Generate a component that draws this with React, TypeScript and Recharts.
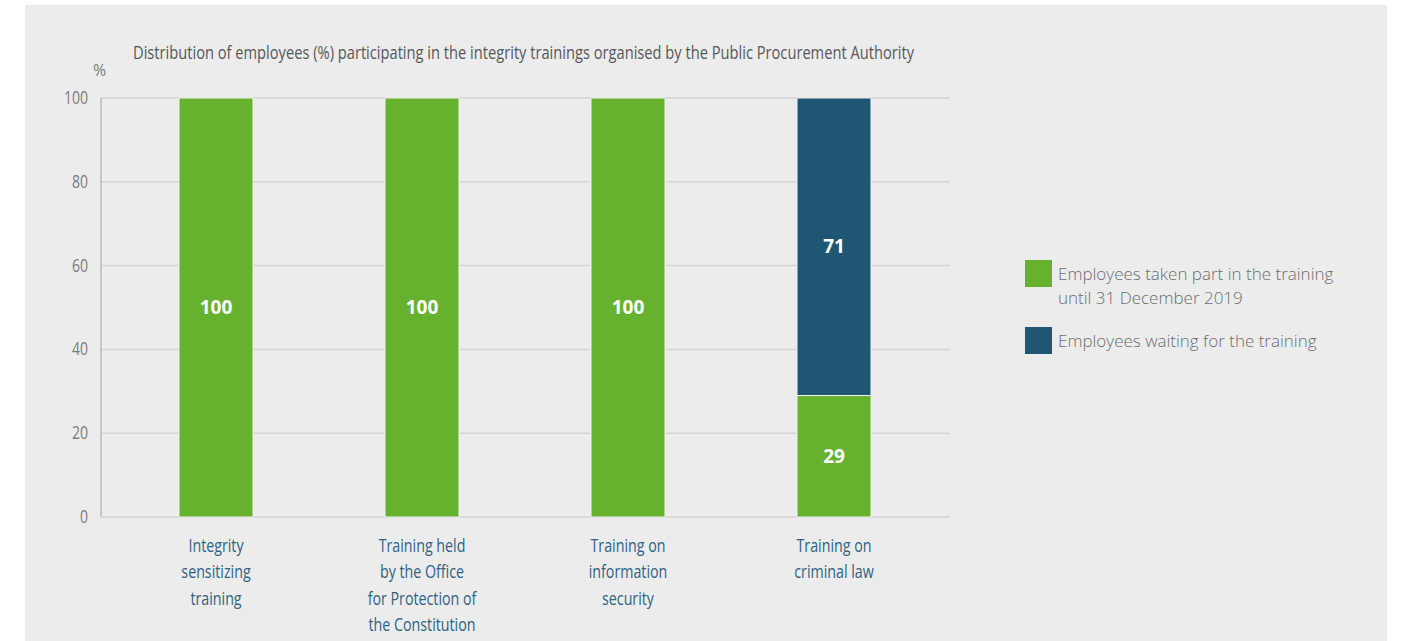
import { Bar, BarChart, CartesianGrid, LabelList, XAxis, YAxis } from "recharts";

const categories = [
  "Integrity\nsensitizing\ntraining",
  "Training held\nby the Office\nfor Protection of\nthe Constitution",
  "Training on\ninformation\nsecurity",
  "Training on\ncriminal law",
];
const takenPart = [100, 100, 100, 29];
const waiting = [0, 0, 0, 71];
const yTicks = [0, 20, 40, 60, 80, 100];

const seriesNames = {
  taken: "Employees taken part in the training\nuntil 31 December 2019",
  waiting: "Employees waiting for the training",
};
const title =
  "Distribution of employees (%) participating in the integrity trainings organised by the Public Procurement Authority";

const GREEN = "#66b22f";
const BLUE = "#1f5674";
const FONT = '"Open Sans", "Noto Sans", sans-serif';

const data = categories.map((name, i) => ({
  name,
  taken: takenPart[i],
  waiting: waiting[i] || null,
}));

// axis text is a condensed face in the original, so squeeze it horizontally
function CategoryTick({ x, y, payload }: any) {
  const lines = String(payload.value).split("\n");
  return (
    <g transform={`translate(${x},${y}) scale(0.75,1)`}>
      <text x={0} y={0} textAnchor="middle" fill="#2f6283" fontSize={19} fontFamily={FONT}>
        {lines.map((line, i) => (
          <tspan key={i} x={0} dy={i === 0 ? 29 : 26.3}>
            {line}
          </tspan>
        ))}
      </text>
    </g>
  );
}

function ValueTick({ x, y, payload }: any) {
  return (
    <g transform={`translate(${x},${y}) scale(0.78,1)`}>
      <text x={0} y={0} dy={6} textAnchor="end" fill="#7b7b7b" fontSize={18} fontFamily={FONT}>
        {payload.value}
      </text>
    </g>
  );
}

function LegendBlock() {
  const items = [
    { color: GREEN, text: seriesNames.taken },
    { color: BLUE, text: seriesNames.waiting },
  ];
  return (
    <div style={{ display: "flex", flexDirection: "column", gap: 17 }}>
      {items.map((it) => (
        <div key={it.color} style={{ display: "flex", alignItems: "flex-start" }}>
          <div style={{ width: 27, height: 27, background: it.color, flexShrink: 0 }} />
          <div
            style={{
              marginLeft: 6,
              marginTop: 2,
              whiteSpace: "pre",
              fontFamily: FONT,
              fontWeight: 300,
              fontSize: 17,
              lineHeight: "24px",
              color: "#6c6c6c",
            }}
          >
            {it.text}
          </div>
        </div>
      ))}
    </div>
  );
}

export default function App() {
  return (
    <div style={{ position: "absolute", left: 0, top: 0, width: 1404, height: 641, background: "#ffffff", overflow: "hidden" }}>
      <div style={{ position: "absolute", left: 25, top: 5, width: 1362, height: 636, background: "#ececec" }} />
      <svg width={1404} height={80} style={{ position: "absolute", left: 0, top: 0 }}>
        <text
          x={133}
          y={59}
          fontSize={19}
          fontFamily={FONT}
          fill="#585858"
          textLength={781}
          lengthAdjust="spacingAndGlyphs"
        >
          {title}
        </text>
        <text x={93} y={76} fontSize={16} fontFamily={FONT} fill="#7b7b7b">
          %
        </text>
      </svg>
      <div style={{ position: "absolute", left: 0, top: 0 }}>
        <BarChart
          width={1404}
          height={641}
          data={data}
          margin={{ top: 98, right: 454, bottom: 0, left: 41 }}
          barSize={74}
        >
          <CartesianGrid vertical={false} stroke="#d4d4d4" strokeWidth={1.5} />
          <XAxis
            dataKey="name"
            interval={0}
            tick={<CategoryTick />}
            tickLine={false}
            axisLine={false}
            padding={{ left: 12, right: 13 }}
            height={124}
            tickMargin={0}
          />
          <YAxis
            width={60}
            domain={[0, 100]}
            ticks={yTicks}
            tick={<ValueTick />}
            tickLine={false}
            axisLine={{ stroke: "#c6c6c6", strokeWidth: 2 }}
            tickMargin={7}
          />
          <Bar
            dataKey="taken"
            name={seriesNames.taken}
            stackId="a"
            fill={GREEN}
            stroke="#f2f2f2"
            strokeWidth={1}
            isAnimationActive={false}
          >
            <LabelList
              dataKey="taken"
              position="center"
              fill="#ffffff"
              fontSize={19}
              fontWeight={700}
              fontFamily={FONT}
            />
          </Bar>
          <Bar
            dataKey="waiting"
            name={seriesNames.waiting}
            stackId="a"
            fill={BLUE}
            stroke="#f2f2f2"
            strokeWidth={1}
            isAnimationActive={false}
          >
            <LabelList
              dataKey="waiting"
              position="center"
              fill="#ffffff"
              fontSize={19}
              fontWeight={700}
              fontFamily={FONT}
            />
          </Bar>
        </BarChart>
      </div>
      <div style={{ position: "absolute", left: 1025, top: 260 }}>
        <LegendBlock />
      </div>
    </div>
  );
}
